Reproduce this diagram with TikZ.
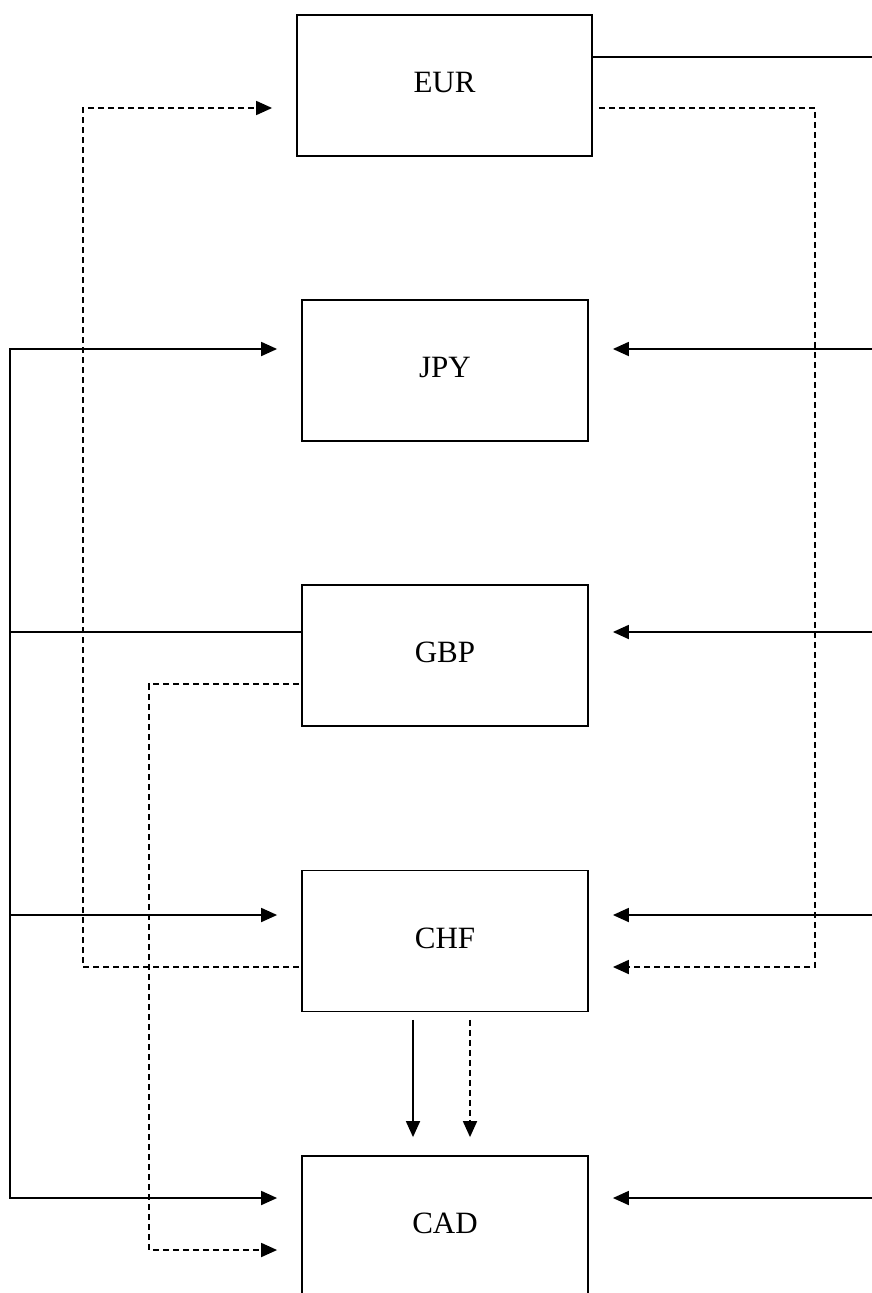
\documentclass[tikz,border=0pt]{standalone}
\usepackage{fontspec}
\setmainfont{Liberation Serif}
\usetikzlibrary{arrows.meta,calc}

\tikzset{
	box/.style={draw, line width=1.8pt, minimum width=286pt, minimum height=141pt, inner sep=0pt, text depth=6pt, font=\fontsize{31}{36}\selectfont},
	flow/.style={line width=1.8pt},
	dflow/.style={flow, dash pattern=on 6pt off 4pt},
	tip/.style={-{Triangle[length=16pt,width=14pt]}}
}

\begin{document}
\begin{tikzpicture}[x=1pt, y=-1pt]
		%%%%% START %%%%%
		
		\useasboundingbox (0,0) rectangle (872,1293);
		
		\node[box, minimum width=295pt] (eur) at (444.5,85.5) {EUR};
		\node[box] (jpy) at (445,370.5) {JPY};
		\node[box] (gbp) at (445,655.5) {GBP};
		\node[box] (chf) at (445,941) {CHF};
		\node[box] (cad) at (445,1226.5) {CAD};
		
		\coordinate (re) at (872,0);
		\coordinate (lr) at (10,0);
		\coordinate (dr) at (815,0);
		\coordinate (dl) at (83,0);
		\coordinate (dg) at (149,0);
		
		% right side
		\coordinate (j1) at ($(jpy.east)+(24,-21.5)$);
		\coordinate (g1) at ($(gbp.east)+(24,-23.5)$);
		\coordinate (c1) at ($(chf.east)+(24,-26)$);
		\coordinate (d1) at ($(cad.east)+(24,-28.5)$);
		\coordinate (c3) at ($(chf.east)+(24,26)$);
		
		\draw[flow] ($(eur.east)+(0,-28.5)$) coordinate (e1) -- (e1 -| re);
		\draw[flow,tip] (j1 -| re) -- (j1);
		\draw[flow,tip] (g1 -| re) -- (g1);
		\draw[flow,tip] (c1 -| re) -- (c1);
		\draw[flow,tip] (d1 -| re) -- (d1);
		\draw[dflow,tip] ($(eur.east)+(6,22.5)$) -| (c3 -| dr) -- (c3);
		
		% left side
		\coordinate (j2) at ($(jpy.west)+(-24,-21.5)$);
		\coordinate (c2) at ($(chf.west)+(-24,-26)$);
		\coordinate (d2) at ($(cad.west)+(-24,-28.5)$);
		\coordinate (e3) at ($(eur.west)+(-24,22.5)$);
		\coordinate (d3) at ($(cad.west)+(-24,23.5)$);
		
		\draw[flow,tip] (lr |- d2) |- (j2);
		\draw[flow,tip] (lr |- j2) |- (d2);
		\draw[flow,tip] (lr |- c2) -- (c2);
		\draw[flow] ($(gbp.west)+(0,-23.5)$) coordinate (g2) -- (g2 -| lr);
		\draw[dflow,tip] ($(chf.west)+(-2,26)$) -| (e3 -| dl) -- (e3);
		\draw[dflow,tip] ($(gbp.west)+(-2,28.5)$) -| (d3 -| dg) -- (d3);
		
		% chf to cad
		\draw[flow,tip] ($(chf.south)+(-32,7.5)$) -- ($(cad.north)+(-32,-18)$);
		\draw[dflow,tip] ($(chf.south)+(25,7.5)$) -- ($(cad.north)+(25,-18)$);
		
		%%%%% END %%%%%
\end{tikzpicture}
\end{document}
